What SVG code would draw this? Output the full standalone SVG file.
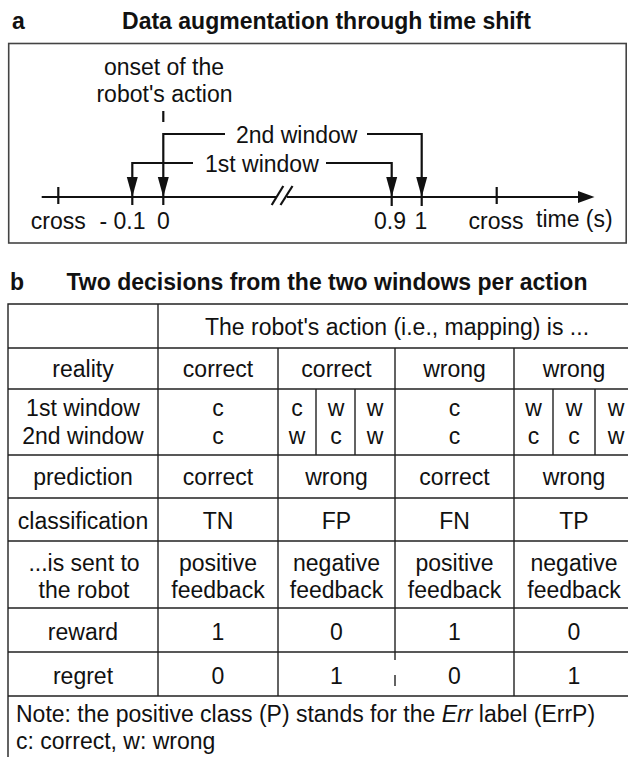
<svg xmlns="http://www.w3.org/2000/svg" width="628" height="757" viewBox="0 0 628 757">
<style>
text{font-family:"Liberation Sans",Arial,Helvetica,sans-serif;fill:#111;font-size:23px}
.t{font-weight:bold}
.c{text-anchor:middle}
.ln{stroke:#111;stroke-width:2.2;fill:none}
.tb{stroke:#222;stroke-width:1.4;fill:none}
.ah{fill:#111;stroke:none}
</style>
<defs>
<path id="arr" d="M-5.5,-20 L5.5,-20 L0,0 Z" class="ah"/>
</defs>
<rect width="628" height="757" fill="#fff"/>

<g id="panel-a">
<text class="t" x="12" y="29">a</text>
<text class="t c" x="326.5" y="29">Data augmentation through time shift</text>
<rect x="8.7" y="43.5" width="617.5" height="199.5" fill="none" stroke="#444" stroke-width="1.6"/>
<g id="onset">
<text class="c" x="164" y="74.5">onset of the</text>
<text class="c" x="164.5" y="101.5">robot's action</text>
<line class="ln" x1="163.3" y1="111" x2="163.3" y2="122"/>
</g>
<g id="axis">
<line class="ln" x1="41.7" y1="197" x2="277" y2="197"/>
<line class="ln" x1="287" y1="197" x2="580" y2="197"/>
<path d="M578,191 L594.5,197 L578,203 Z" class="ah"/>
<line class="ln" x1="271.7" y1="205" x2="283.3" y2="186" stroke-width="1.8"/>
<line class="ln" x1="280.5" y1="205" x2="292.5" y2="186" stroke-width="1.8"/>
<line class="ln" x1="58.3" y1="187" x2="58.3" y2="204"/>
<line class="ln" x1="496.7" y1="187" x2="496.7" y2="204"/>
<line class="ln" x1="132.3" y1="190" x2="132.3" y2="205"/>
<line class="ln" x1="163.3" y1="190" x2="163.3" y2="205"/>
<line class="ln" x1="391.7" y1="190" x2="391.7" y2="206"/>
<line class="ln" x1="421.7" y1="190" x2="421.7" y2="206"/>
<text class="c" x="58.3" y="228.5">cross</text>
<text class="c" x="122.5" y="228.5">- 0.1</text>
<text class="c" x="163.3" y="228.5">0</text>
<text class="c" x="390" y="228.5">0.9</text>
<text class="c" x="421" y="228.5">1</text>
<text class="c" x="496" y="228.5">cross</text>
<text x="536" y="226.5">time (s)</text>
</g>
<g id="connectors">
<path class="ln" d="M225,134 H163.3 V178"/>
<path class="ln" d="M367,134 H421.7 V178"/>
<path class="ln" d="M193,163 H132.3 V178"/>
<path class="ln" d="M326,163 H391.7 V178"/>
<use href="#arr" x="132.3" y="197"/>
<use href="#arr" x="163.3" y="197"/>
<use href="#arr" x="391.7" y="197"/>
<use href="#arr" x="421.7" y="197"/>
<text x="236" y="143.3">2nd window</text>
<text x="205" y="171.7">1st window</text>
</g>
</g>

<g id="panel-b">
<text class="t" x="10" y="290">b</text>
<text class="t c" x="327" y="290">Two decisions from the two windows per action</text>
<g id="table-lines">
<path class="tb" d="M8,757 V304 H640"/>
<path class="tb" d="M158,304 V696"/>
<path class="tb" d="M8,348 H640 M8,389 H640 M8,455 H640 M8,498 H640 M8,541 H640 M8,608 H640 M8,652 H640 M8,696 H640"/>
<path class="tb" d="M278,348 V696 M514,348 V696"/>
<path class="tb" d="M395,348 V660 M395,675 V686"/>
<path class="tb" d="M316,389 V455 M355,389 V455 M553,389 V455 M595,389 V455"/>
</g>
<g id="table-text">
<text class="c" x="397" y="335">The robot's action (i.e., mapping) is ...</text>
<text class="c" x="83" y="377">reality</text>
<text class="c" x="218" y="377">correct</text>
<text class="c" x="336.5" y="377">correct</text>
<text class="c" x="454.5" y="377">wrong</text>
<text class="c" x="574" y="377">wrong</text>

<text class="c" x="83" y="416">1st window</text>
<text class="c" x="83" y="444">2nd window</text>
<text class="c" x="218" y="416">c</text>
<text class="c" x="218" y="444">c</text>
<text class="c" x="297" y="416">c</text>
<text class="c" x="297" y="444">w</text>
<text class="c" x="336" y="416">w</text>
<text class="c" x="336" y="444">c</text>
<text class="c" x="375" y="416">w</text>
<text class="c" x="375" y="444">w</text>
<text class="c" x="454.5" y="416">c</text>
<text class="c" x="454.5" y="444">c</text>
<text class="c" x="533.5" y="416">w</text>
<text class="c" x="533.5" y="444">c</text>
<text class="c" x="574" y="416">w</text>
<text class="c" x="574" y="444">c</text>
<text class="c" x="616" y="416">w</text>
<text class="c" x="616" y="444">w</text>

<text class="c" x="83" y="485">prediction</text>
<text class="c" x="218" y="485">correct</text>
<text class="c" x="336.5" y="485">wrong</text>
<text class="c" x="454.5" y="485">correct</text>
<text class="c" x="574" y="485">wrong</text>

<text class="c" x="83" y="529">classification</text>
<text class="c" x="218" y="529">TN</text>
<text class="c" x="336.5" y="529">FP</text>
<text class="c" x="454.5" y="529">FN</text>
<text class="c" x="574" y="529">TP</text>

<text class="c" x="84" y="571">...is sent to</text>
<text class="c" x="84" y="598">the robot</text>
<text class="c" x="218" y="571">positive</text>
<text class="c" x="218" y="598">feedback</text>
<text class="c" x="336.5" y="571">negative</text>
<text class="c" x="336.5" y="598">feedback</text>
<text class="c" x="454.5" y="571">positive</text>
<text class="c" x="454.5" y="598">feedback</text>
<text class="c" x="574" y="571">negative</text>
<text class="c" x="574" y="598">feedback</text>

<text class="c" x="83" y="640">reward</text>
<text class="c" x="218" y="640">1</text>
<text class="c" x="336.5" y="640">0</text>
<text class="c" x="454.5" y="640">1</text>
<text class="c" x="574" y="640">0</text>

<text class="c" x="83" y="684">regret</text>
<text class="c" x="218" y="684">0</text>
<text class="c" x="336.5" y="684">1</text>
<text class="c" x="454.5" y="684">0</text>
<text class="c" x="574" y="684">1</text>

<text x="16" y="722">Note: the positive class (P) stands for the <tspan font-style="italic">Err</tspan> label (ErrP)</text>
<text x="16" y="749">c: correct, w: wrong</text>
</g>
</g>
</svg>
